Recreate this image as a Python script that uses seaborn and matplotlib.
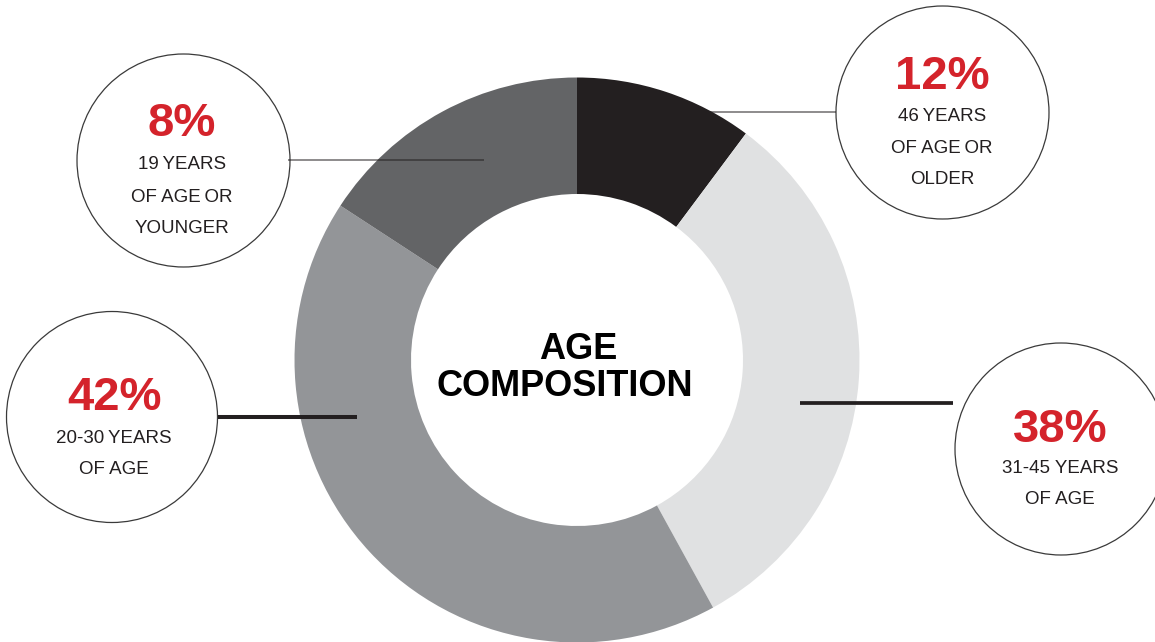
import matplotlib
matplotlib.use('Agg')
from matplotlib import pyplot as plt
from matplotlib.patches import Circle
import seaborn as sns

segments = ['46+', '31-45', '20-30', '<=19']
wedge_shares = [10.2, 31.8, 42.2, 15.8]
wedge_colors = ['#231f20', '#e0e1e2', '#939598', '#636466']

# callout texts
pct_labels = ['12%', '38%', '42%', '8%']
age_lines = [
    ['46\u2009YEARS', 'OF AGE\u2009OR', 'OLDER'],
    ['31-45 YEARS', 'OF AGE'],
    ['20-30\u2009YEARS', 'OF AGE'],
    ['19\u2009YEARS', 'OF AGE\u2009OR', 'YOUNGER'],
]
title_lines = ['AGE', 'COMPOSITION']

W, H = 1155, 642
RED = '#d4232b'
INK = '#231f20'
FONT = ['Liberation Sans', 'DejaVu Sans']

sns.set_theme(style='white')
plt.rcParams['font.family'] = FONT


def Y(y):
    # pixel row -> data y
    return H - y


fig = plt.figure(figsize=(W / 100, H / 100), dpi=100)
ax = fig.add_axes([0, 0, 1, 1])

cx, cy, r_out, r_in = 577, 360, 282.5, 166
ax.pie(wedge_shares, colors=wedge_colors, startangle=90, counterclock=False,
       radius=r_out, center=(cx, Y(cy)),
       wedgeprops=dict(width=r_out - r_in, linewidth=0))

# leader lines
ax.plot([288, 484], [Y(160), Y(160)], color=INK, lw=1.1, alpha=0.65, solid_capstyle='butt')
ax.plot([700, 836], [Y(112), Y(112)], color=INK, lw=1.1, alpha=0.65, solid_capstyle='butt')
ax.plot([218, 357], [Y(417), Y(417)], color=INK, lw=2.9, solid_capstyle='butt')
ax.plot([800, 953], [Y(403), Y(403)], color=INK, lw=2.7, solid_capstyle='butt')

# callout bubbles: centre, radius, x of text, baselines
bubbles = [
    ((942.5, 112.5), 106.5, 942, [89, 121, 153, 184]),
    ((1061, 449), 106, 1060, [442, 473, 504]),
    ((112, 417), 105.5, 114, [410, 443, 474]),
    ((183.5, 160.5), 106.5, 182, [136, 169, 202, 233]),
]
for (pct, lines, (ctr, rad, tx, bases)) in zip(pct_labels, age_lines, bubbles):
    ax.add_patch(Circle((ctr[0], Y(ctr[1])), rad, fill=False,
                        edgecolor='#3a3a3a', lw=0.9))
    ax.text(tx, Y(bases[0]), pct, ha='center', va='baseline',
            fontsize=34, fontweight='bold', color=RED, family=FONT)
    for line, b in zip(lines, bases[1:]):
        ax.text(tx, Y(b), line, ha='center', va='baseline',
                fontsize=13.5, color=INK, family=FONT)

ax.text(578, Y(359), title_lines[0], ha='center', va='baseline',
        fontsize=26, fontweight='bold', color='black', family=FONT)
ax.text(565, Y(396), title_lines[1], ha='center', va='baseline',
        fontsize=26, fontweight='bold', color='black', family=FONT)

ax.set_xlim(0, W)
ax.set_ylim(0, H)
ax.set_aspect('equal')
ax.axis('off')

fig.savefig('out.png', dpi=100, facecolor='white')
